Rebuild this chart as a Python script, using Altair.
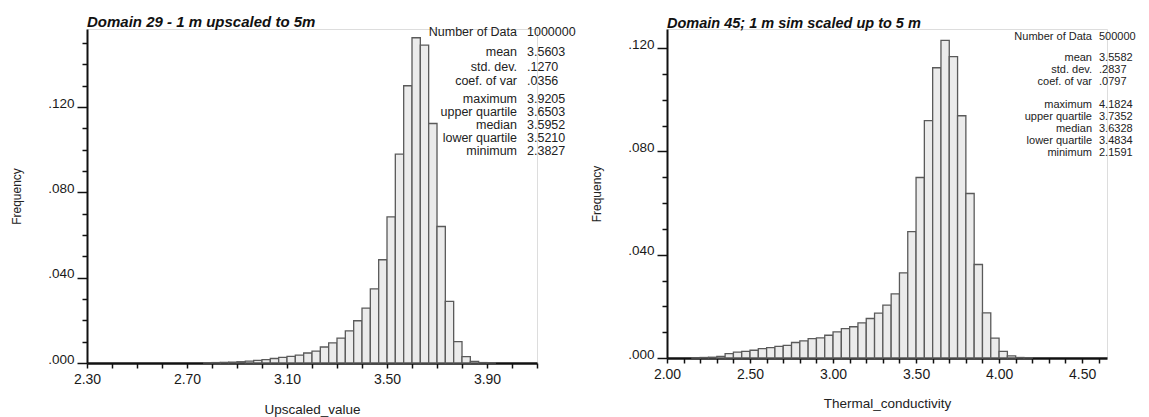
import altair as alt
import pandas as pd

FONT = "Liberation Sans"

# ---------------- data ----------------
left_bin_start = [2.7667, 2.8000, 2.8333, 2.8667, 2.9000, 2.9333, 2.9667, 3.0000,
                  3.0333, 3.0667, 3.1000, 3.1333, 3.1667, 3.2000, 3.2333, 3.2667,
                  3.3000, 3.3333, 3.3667, 3.4000, 3.4333, 3.4667, 3.5000, 3.5333,
                  3.5667, 3.6000, 3.6333, 3.6667, 3.7000, 3.7333, 3.7667, 3.8000,
                  3.8333, 3.8667, 3.9000]
left_freq = [0.0001, 0.0002, 0.0003, 0.0004, 0.0006, 0.0009, 0.0012, 0.0016,
             0.0021, 0.0026, 0.0031, 0.0037, 0.0047, 0.0056, 0.0075, 0.0094,
             0.0117, 0.0151, 0.0198, 0.0257, 0.0348, 0.0484, 0.0685, 0.0979,
             0.1300, 0.1525, 0.1490, 0.1123, 0.0640, 0.0289, 0.0100, 0.0030,
             0.0008, 0.0002, 0.0001]
left_bin_width = 0.03333

right_bin_start = [2.15, 2.20, 2.25, 2.30, 2.35, 2.40, 2.45, 2.50, 2.55, 2.60,
                   2.65, 2.70, 2.75, 2.80, 2.85, 2.90, 2.95, 3.00, 3.05, 3.10,
                   3.15, 3.20, 3.25, 3.30, 3.35, 3.40, 3.45, 3.50, 3.55, 3.60,
                   3.65, 3.70, 3.75, 3.80, 3.85, 3.90, 3.95, 4.00, 4.05, 4.10,
                   4.15]
right_freq = [0.0001, 0.0002, 0.0003, 0.0006, 0.0017, 0.0023, 0.0026, 0.0030, 0.0036, 0.0040,
              0.0045, 0.0049, 0.0060, 0.0066, 0.0075, 0.0078, 0.0088, 0.0101, 0.0114, 0.0121,
              0.0136, 0.0153, 0.0174, 0.0205, 0.0248, 0.0330, 0.0489, 0.0699, 0.0919, 0.1124,
              0.1230, 0.1167, 0.0938, 0.0637, 0.0362, 0.0175, 0.0077, 0.0026, 0.0008, 0.0002,
              0.0001]
right_bin_width = 0.05

left_x_ticks = [2.3, 2.4, 2.5, 2.6, 2.7, 2.8, 2.9, 3.0, 3.1, 3.2, 3.3, 3.4, 3.5,
                3.6, 3.7, 3.8, 3.9, 4.0, 4.1]
left_x_labels = [2.3, 2.7, 3.1, 3.5, 3.9]
right_x_ticks = [2.0, 2.1, 2.2, 2.3, 2.4, 2.5, 2.6, 2.7, 2.8, 2.9, 3.0, 3.1, 3.2,
                 3.3, 3.4, 3.5, 3.6, 3.7, 3.8, 3.9, 4.0, 4.1, 4.2, 4.3, 4.4, 4.5, 4.6]
right_x_labels = [2.0, 2.5, 3.0, 3.5, 4.0, 4.5]
left_y_ticks = [0.0, 0.01, 0.02, 0.03, 0.04, 0.05, 0.06, 0.07, 0.08, 0.09, 0.1,
                0.11, 0.12, 0.13, 0.14, 0.15]
right_y_ticks = [0.0, 0.01, 0.02, 0.03, 0.04, 0.05, 0.06, 0.07, 0.08, 0.09, 0.1,
                 0.11, 0.12]
y_labels = [0.0, 0.04, 0.08, 0.12]

left_title = "Domain 29 - 1 m upscaled to 5m"
right_title = "Domain 45; 1 m sim scaled up to 5 m"
left_x_title = "Upscaled_value"
right_x_title = "Thermal_conductivity"
y_title = "Frequency"

stat_names = ["Number of Data", "mean", "std. dev.", "coef. of var", "maximum",
              "upper quartile", "median", "lower quartile", "minimum"]
left_stat_values = ["1000000", "3.5603", ".1270", ".0356", "3.9205", "3.6503",
                    "3.5952", "3.5210", "2.3827"]
right_stat_values = ["500000", "3.5582", ".2837", ".0797", "4.1824", "3.7352",
                     "3.6328", "3.4834", "2.1591"]


def in_list(vals, k):
    arr = ",".join(repr(v) for v in vals)
    return f"indexof([{arr}], round(datum.value*{k})/{k}) >= 0"


def y_axis(ticks, h):
    maj = in_list(y_labels, 100)
    return alt.Axis(
        values=ticks, title=y_title, titleX=-71, titleY=h / 2, titleAngle=270,
        titleAlign="center", titleBaseline="middle", titleFont=FONT,
        titleFontSize=12, titleFontWeight="normal", titleColor="#222",
        labelExpr=f"{maj} ? substring(format(datum.value, '.3f'), 1) : ''",
        labelFont=FONT, labelFontSize=13.5, labelColor="#1a1a1a",
        labelBaseline="alphabetic", labelPadding=3, labelOverlap=False,
        tickSize={"condition": {"test": maj, "value": 10}, "value": 5},
        tickColor="#111", tickWidth=1.5, domainColor="#111", domainWidth=2,
        grid=False)


def x_axis(ticks, labels, title, gap):
    maj = in_list(labels, 10)
    return alt.Axis(
        values=ticks, title=title, titleY=gap, titleBaseline="middle",
        titleFont=FONT, titleFontSize=13.5, titleFontWeight="normal",
        titleColor="#222",
        labelExpr=f"{maj} ? format(datum.value, '.2f') : ''",
        labelFont=FONT, labelFontSize=14, labelColor="#1a1a1a",
        labelFlush=False, labelOverlap=False, labelPadding=4,
        tickSize=5, tickColor="#111", tickWidth=1.5,
        domainColor="#111", domainWidth=2.5, grid=False)


def text_mark(text, x, y, align, baseline, size, lh, style="normal",
              weight="normal", color="#222"):
    df = pd.DataFrame({"t": [text]})
    return alt.Chart(df).mark_text(
        align=align, baseline=baseline, font=FONT, fontSize=size,
        fontStyle=style, fontWeight=weight,
        lineBreak="\n", lineHeight=lh, color=color
    ).encode(text="t:N", x=alt.value(x), y=alt.value(y))


def panel(starts, freqs, width_bin, xdom, ydom, xticks, xlabels, yticks,
          title, title_size, title_y, xtitle, xgap, values, w, h,
          lab_x, val_x, tops, lhs, fsize):
    df = pd.DataFrame({"start": starts, "freq": freqs})
    df["end"] = df["start"] + width_bin
    bars = alt.Chart(df).mark_rect(
        fill="#ebebeb", stroke="#5a5a5a", strokeWidth=1.3
    ).encode(
        x=alt.X("start:Q", scale=alt.Scale(domain=xdom, nice=False, zero=False),
                axis=x_axis(xticks, xlabels, xtitle, xgap)),
        x2="end:Q",
        y=alt.Y("freq:Q", scale=alt.Scale(domain=ydom, nice=False),
                axis=y_axis(yticks, h)),
        y2=alt.datum(0),
    )
    groups = [(0, 1), (1, 4), (4, 9)]
    layers = [bars,
              text_mark(title, 0, title_y, "left", "alphabetic", title_size,
                        title_size, style="italic", weight="bold", color="#111")]
    for (a, b), top, lh in zip(groups, tops, lhs):
        layers.append(text_mark("\n".join(stat_names[a:b]), lab_x, top,
                                "right", "top", fsize, lh))
        layers.append(text_mark("\n".join(values[a:b]), val_x, top,
                                "left", "top", fsize, lh))
    return alt.layer(*layers).properties(width=w, height=h)


left = panel(left_bin_start, left_freq, left_bin_width, [2.3, 4.1], [0, 0.1566],
             left_x_ticks, left_x_labels, left_y_ticks, left_title, 15, -2.5,
             left_x_title, 46, left_stat_values, 450, 334,
             430, 440, [-3, 17, 64], [14.5, 14.5, 13], 12.5)

right = panel(right_bin_start, right_freq, right_bin_width, [2.0, 4.65], [0, 0.1274],
              right_x_ticks, right_x_labels, right_y_ticks,
              right_title, 14.5, -1.5,
              right_x_title, 45, right_stat_values, 440, 329,
              425, 432, [2, 23, 70], [12, 12, 12], 11)

chart = alt.hconcat(left, right, spacing=130, bounds="flush").properties(
    padding={"left": 1, "top": 6, "right": 0, "bottom": 4}
).configure_view(stroke="transparent").configure(background="white")

chart.save("out.html", embed_options={"renderer": "svg", "actions": False})
